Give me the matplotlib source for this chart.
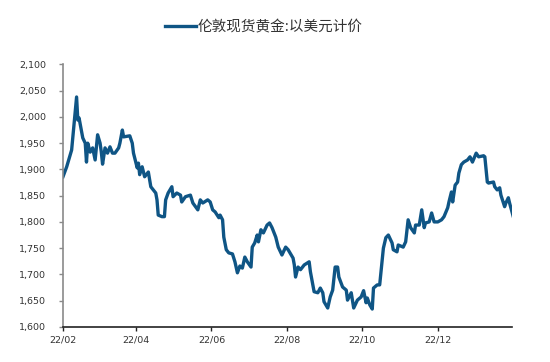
import matplotlib
matplotlib.use('Agg')
import matplotlib.pyplot as plt
import matplotlib.ticker as mticker
import pandas as pd

# London spot gold, USD
dates = [
    '2022-02-01', '2022-02-04', '2022-02-08', '2022-02-12', '2022-02-13',
    '2022-02-14', '2022-02-17', '2022-02-19', '2022-02-20', '2022-02-21',
    '2022-02-23', '2022-02-25', '2022-02-27', '2022-03-01', '2022-03-03',
    '2022-03-04', '2022-03-05', '2022-03-07', '2022-03-09', '2022-03-11',
    '2022-03-13', '2022-03-15', '2022-03-18', '2022-03-19', '2022-03-21',
    '2022-03-22', '2022-03-27', '2022-03-29', '2022-03-30', '2022-04-02',
    '2022-04-03', '2022-04-04', '2022-04-06', '2022-04-08', '2022-04-11',
    '2022-04-13', '2022-04-17', '2022-04-18', '2022-04-19', '2022-04-22',
    '2022-04-24', '2022-04-25', '2022-04-27', '2022-04-30', '2022-05-01',
    '2022-05-04', '2022-05-07', '2022-05-08', '2022-05-11', '2022-05-15',
    '2022-05-17', '2022-05-21', '2022-05-23', '2022-05-25', '2022-05-29',
    '2022-05-31', '2022-06-02', '2022-06-04', '2022-06-07', '2022-06-08',
    '2022-06-10', '2022-06-11', '2022-06-13', '2022-06-15', '2022-06-18',
    '2022-06-20', '2022-06-22', '2022-06-24', '2022-06-26', '2022-06-28',
    '2022-06-30', '2022-07-03', '2022-07-04', '2022-07-06', '2022-07-08',
    '2022-07-09', '2022-07-11', '2022-07-13', '2022-07-16', '2022-07-18',
    '2022-07-20', '2022-07-23', '2022-07-25', '2022-07-28', '2022-07-31',
    '2022-08-02', '2022-08-06', '2022-08-07', '2022-08-08', '2022-08-10',
    '2022-08-12', '2022-08-15', '2022-08-19', '2022-08-20', '2022-08-23',
    '2022-08-26', '2022-08-28', '2022-08-30', '2022-08-31', '2022-09-03',
    '2022-09-05', '2022-09-07', '2022-09-09', '2022-09-11', '2022-09-12',
    '2022-09-15', '2022-09-18', '2022-09-19', '2022-09-22', '2022-09-24',
    '2022-09-27', '2022-09-30', '2022-10-02', '2022-10-04', '2022-10-05',
    '2022-10-07', '2022-10-09', '2022-10-10', '2022-10-13', '2022-10-15',
    '2022-10-18', '2022-10-20', '2022-10-22', '2022-10-25', '2022-10-26',
    '2022-10-29', '2022-10-30', '2022-11-03', '2022-11-05', '2022-11-07',
    '2022-11-09', '2022-11-12', '2022-11-13', '2022-11-16', '2022-11-18',
    '2022-11-20', '2022-11-21', '2022-11-24', '2022-11-26', '2022-11-28',
    '2022-12-01', '2022-12-04', '2022-12-06', '2022-12-09', '2022-12-10',
    '2022-12-12', '2022-12-13', '2022-12-15', '2022-12-17', '2022-12-18',
    '2022-12-20', '2022-12-22', '2022-12-25', '2022-12-27', '2022-12-29',
    '2023-01-01', '2023-01-03', '2023-01-07', '2023-01-08', '2023-01-10',
    '2023-01-11', '2023-01-15', '2023-01-16', '2023-01-18', '2023-01-20',
    '2023-01-21', '2023-01-24', '2023-01-25', '2023-01-27', '2023-01-28',
    '2023-01-31',
]
prices = [
    1886, 1905, 1937, 2038, 1994,
    1998, 1960, 1950, 1914, 1950,
    1933, 1941, 1918, 1966, 1950,
    1933, 1910, 1941, 1931, 1943,
    1931, 1931, 1941, 1950, 1975,
    1962, 1964, 1950, 1931, 1903,
    1912, 1890, 1905, 1886, 1895,
    1867, 1855, 1842, 1813, 1810,
    1810, 1842, 1855, 1867, 1848,
    1855, 1851, 1838, 1848, 1851,
    1836, 1823, 1842, 1836, 1842,
    1838, 1823, 1819, 1808, 1813,
    1804, 1771, 1747, 1741, 1739,
    1724, 1703, 1716, 1712, 1733,
    1724, 1714, 1752, 1760, 1775,
    1762, 1785, 1779, 1794, 1798,
    1789, 1771, 1752, 1737, 1752,
    1747, 1731, 1718, 1695, 1714,
    1709, 1718, 1724, 1705, 1667,
    1665, 1674, 1665, 1648, 1636,
    1657, 1670, 1714, 1714, 1695,
    1676, 1670, 1651, 1665, 1636,
    1651, 1657, 1669, 1646, 1655,
    1642, 1634, 1674, 1680, 1680,
    1750, 1770, 1775, 1760, 1747,
    1743, 1756, 1752, 1762, 1804,
    1789, 1779, 1794, 1794, 1823,
    1789, 1798, 1800, 1817, 1800,
    1800, 1804, 1810, 1827, 1838,
    1857, 1838, 1870, 1876, 1893,
    1909, 1914, 1918, 1924, 1914,
    1931, 1924, 1926, 1924, 1876,
    1874, 1876, 1867, 1861, 1865,
    1851, 1829, 1836, 1846, 1836,
    1810,
]
tick_dates = ['2022-02-01', '2022-04-01', '2022-06-01',
              '2022-08-01', '2022-10-01', '2022-12-01']
tick_labels = ['22/02', '22/04', '22/06', '22/08', '22/10', '22/12']
label = '伦敦现货黄金:以美元计价'

plt.rcParams['font.family'] = ['Noto Sans CJK SC', 'DejaVu Sans']

fig = plt.figure(figsize=(5.5, 3.62), dpi=100)
ax = fig.add_axes([0.1145, 0.097, 0.8165, 0.725])

x = pd.to_datetime(dates)
ax.plot(x, prices, color='#0f5585', linewidth=2.4, label=label,
        solid_joinstyle='round')

ax.set_ylim(1600, 2100)
ax.set_yticks(range(1600, 2101, 50))
ax.yaxis.set_major_formatter(mticker.StrMethodFormatter('{x:,.0f}'))
ax.set_xlim(pd.Timestamp('2022-02-01'), pd.Timestamp('2023-01-30'))
ax.set_xticks(pd.to_datetime(tick_dates))
ax.set_xticklabels(tick_labels)

for s in ['top', 'right']:
    ax.spines[s].set_visible(False)
ax.spines['left'].set_color('#8a8a8a')
ax.spines['left'].set_linewidth(1.2)
ax.spines['bottom'].set_color('#222222')
ax.spines['bottom'].set_linewidth(1.2)
ax.tick_params(axis='y', direction='out', length=3, width=1,
               color='#8a8a8a', labelsize=6.8, labelcolor='#333333', pad=9)
ax.tick_params(axis='x', direction='out', length=3, width=1,
               color='#222222', labelsize=6.8, labelcolor='#333333', pad=3)
for t in ax.get_xticklabels() + ax.get_yticklabels():
    t.set_family('DejaVu Sans')

fig.legend(loc='center', bbox_to_anchor=(0.48, 0.925), frameon=False,
           fontsize=10.5, handlelength=2.1, handletextpad=0.1,
           labelcolor='#333333')

fig.savefig('out.png', dpi=100, facecolor='white')
